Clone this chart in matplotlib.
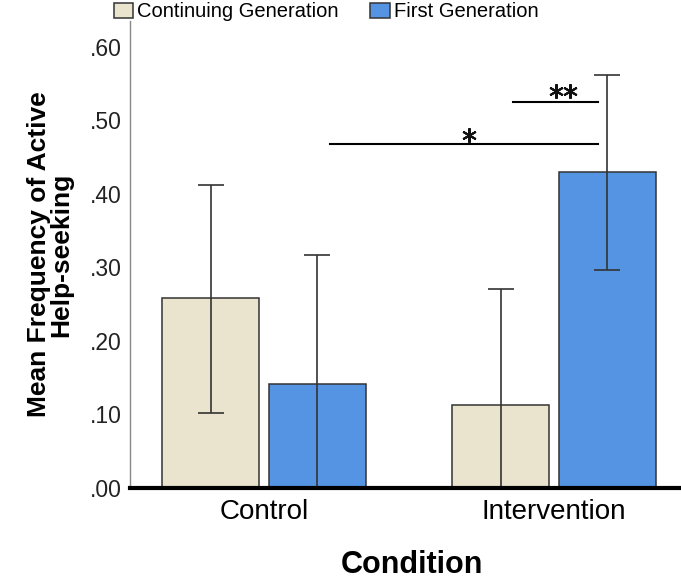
import matplotlib
matplotlib.use("Agg")
import matplotlib.pyplot as plt
import numpy as np
from matplotlib.patches import Patch
from matplotlib.ticker import FuncFormatter

plt.rcParams['font.family'] = ['Liberation Sans', 'DejaVu Sans']

conditions = ["Control", "Intervention"]
series = ["Continuing Generation", "First Generation"]
means_cg = [0.258, 0.113]
means_fg = [0.141, 0.429]
ci_low_cg = [0.102, -0.045]
ci_high_cg = [0.412, 0.271]
ci_low_fg = [-0.035, 0.297]
ci_high_fg = [0.317, 0.562]
yticks = [0.0, 0.1, 0.2, 0.3, 0.4, 0.5, 0.6]
colors = ["#EAE4CF", "#5494E3"]

fig = plt.figure(figsize=(6.81, 5.80), dpi=100)
ax = fig.add_axes([0.191, 0.1586, 0.829, 0.964 - 0.1586])

x = np.arange(len(conditions))
w = 0.335
off = 0.184
edge = "#333333"
for i, (m, lo, hi, c) in enumerate([(means_cg, ci_low_cg, ci_high_cg, colors[0]),
                                     (means_fg, ci_low_fg, ci_high_fg, colors[1])]):
    xpos = x + (-off if i == 0 else off)
    ax.bar(xpos, m, width=w, color=c, edgecolor=edge, linewidth=1.1, zorder=2)
    m = np.array(m); lo = np.array(lo); hi = np.array(hi)
    ax.errorbar(xpos, m, yerr=[m - lo, hi - m], fmt='none', ecolor=edge,
                elinewidth=1.2, capsize=9.7, capthick=1.2, zorder=3)

ax.set_xlim(-0.462, 1.485)
ax.set_ylim(0, 0.635)
ax.set_yticks(yticks)
ax.yaxis.set_major_formatter(FuncFormatter(lambda v, p: f"{v:.2f}".lstrip("0")))
ax.set_xticks(x)
ax.set_xticklabels(conditions, fontsize=20)
ax.tick_params(axis='y', length=0, pad=6, labelsize=16.5, labelcolor="#222222")
ax.tick_params(axis='x', length=0, pad=8)
for s in ["top", "right"]:
    ax.spines[s].set_visible(False)
ax.spines["left"].set_color("#888888")
ax.spines["left"].set_linewidth(1.0)
ax.spines["bottom"].set_color("black")
ax.spines["bottom"].set_linewidth(3.0)
ax.spines["bottom"].set_zorder(5)

ax.set_xlabel("Condition", fontsize=22, fontweight="bold", labelpad=18)
ax.set_ylabel("Mean Frequency of Active\nHelp-seeking", fontsize=19,
              fontweight="bold", labelpad=12, linespacing=0.92)

# significance annotations
star = dict(marker=(6, 2, 0), markersize=10.5, markeredgewidth=1.5,
            color="#111111", linestyle="none", zorder=4)
ax.plot([0.228, 1.152], [0.467, 0.467], color="black", lw=1.5, zorder=4)
ax.plot([0.707], [0.480], **star)
ax.plot([0.859, 1.152], [0.525, 0.525], color="black", lw=1.5, zorder=4)
ax.plot([1.008, 1.054], [0.540, 0.540], **star)

handles = [Patch(facecolor=colors[0], edgecolor=edge, linewidth=1.1),
           Patch(facecolor=colors[1], edgecolor=edge, linewidth=1.1)]
fig.legend(handles, series, loc="upper left", bbox_to_anchor=(0.155, 1.01),
           ncol=2, frameon=False, fontsize=14.5, handlelength=0.95,
           handleheight=0.75, handletextpad=0.2, columnspacing=1.6,
           borderaxespad=0.0)

fig.savefig("out.png", dpi=100)
